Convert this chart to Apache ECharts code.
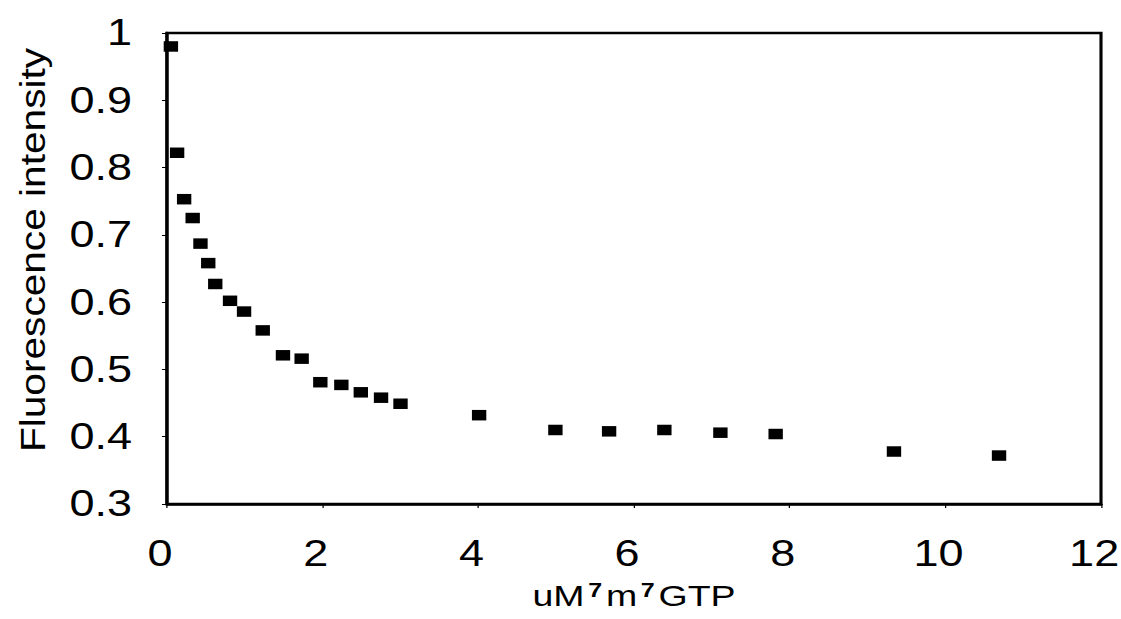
<!DOCTYPE html>
<html>
<head>
<meta charset="utf-8">
<script src="https://cdn.jsdelivr.net/npm/echarts@6/dist/echarts.min.js"></script>
<style>
html,body{margin:0;padding:0;background:#fff;overflow:hidden;}
/* the scanned figure has its lettering stretched sideways, so the whole chart is drawn narrow and widened */
#echart{width:897px;height:619px;transform:scaleX(1.25);transform-origin:0 0;}
</style>
</head>
<body>
<div id="echart"></div>
<script>
// uM m7GTP added
var conc = [0.05, 0.13, 0.22, 0.33, 0.43, 0.53, 0.62, 0.81, 0.99, 1.23, 1.49, 1.73, 1.97,
            2.24, 2.49, 2.75, 3.0, 4.01, 4.99, 5.68, 6.39, 7.11, 7.82, 9.34, 10.69];
// relative fluorescence
var fluo = [0.980, 0.822, 0.753, 0.725, 0.687, 0.658, 0.627, 0.602, 0.586, 0.558, 0.521, 0.516, 0.481,
            0.477, 0.466, 0.458, 0.449, 0.432, 0.410, 0.408, 0.410, 0.406, 0.404, 0.378, 0.372];
var xTicks = [0, 2, 4, 6, 8, 10, 12];
var yTicks = [0.3, 0.4, 0.5, 0.6, 0.7, 0.8, 0.9, 1];

var sx = 1.25;
var font = "'Liberation Sans', Arial, sans-serif";

function init_echart(){
	var dom = document.getElementById('echart');
	var myChart = echarts.init(dom, null, {renderer: 'svg'});
	var pts = [];
	for (var i = 0; i < conc.length; i++) {
		pts.push([conc[i], fluo[i]]);
	}
	var option = {
	    animation: false,
	    backgroundColor: '#fff',
	    grid: {
	        left: 167 / sx,
	        right: 897 - 1101 / sx,
	        top: 33,
	        bottom: 115,
	        outerBoundsMode: 'none',
	        containLabel: false,
	        show: true,
	        borderColor: '#000',
	        borderWidth: 2.5
	    },
	    xAxis: {
	        type: 'value',
	        min: xTicks[0],
	        max: xTicks[xTicks.length - 1],
	        interval: xTicks[1] - xTicks[0],
	        name: 'uM{s|7}m{s|7}GTP',
	        nameLocation: 'middle',
	        nameGap: 76,
	        nameTextStyle: {
	            fontFamily: font,
	            fontSize: 30,
	            color: '#000',
	            rich: {
	                s: {fontFamily: font, fontSize: 20, fontWeight: 'bold', color: '#000', verticalAlign: 'top', padding: [0, 3, 8, 3]}
	            }
	        },
	        axisLine: {lineStyle: {color: '#000', width: 2.5}},
	        axisTick: {show: true, length: 4, lineStyle: {color: '#000', width: 1}},
	        axisLabel: {fontFamily: font, fontSize: 36, color: '#000', margin: 32, padding: [0, 11, 0, 0]},
	        splitLine: {show: false}
	    },
	    yAxis: {
	        type: 'value',
	        min: yTicks[0],
	        max: yTicks[yTicks.length - 1],
	        interval: 0.1,
	        axisLine: {show: true, lineStyle: {color: '#000', width: 2.5}},
	        axisTick: {show: true, length: 4, lineStyle: {color: '#000', width: 1}},
	        axisLabel: {fontFamily: font, fontSize: 36, color: '#000', margin: 28},
	        splitLine: {show: false}
	    },
	    graphic: [{
	        type: 'text',
	        x: 33 / sx,
	        y: 250,
	        rotation: Math.PI / 2,
	        scaleX: 1.27,
	        scaleY: 0.88,
	        style: {
	            text: 'Fluorescence intensity',
	            font: '32px ' + font,
	            fill: '#000',
	            align: 'center',
	            verticalAlign: 'middle'
	        }
	    }],
	    series: [{
	        type: 'scatter',
	        data: pts,
	        symbol: 'rect',
	        symbolSize: [11.5, 10.5],
	        itemStyle: {color: '#000', opacity: 1}
	    }]
	};
	myChart.setOption(option, true);
}
init_echart();
</script>
</body>
</html>
